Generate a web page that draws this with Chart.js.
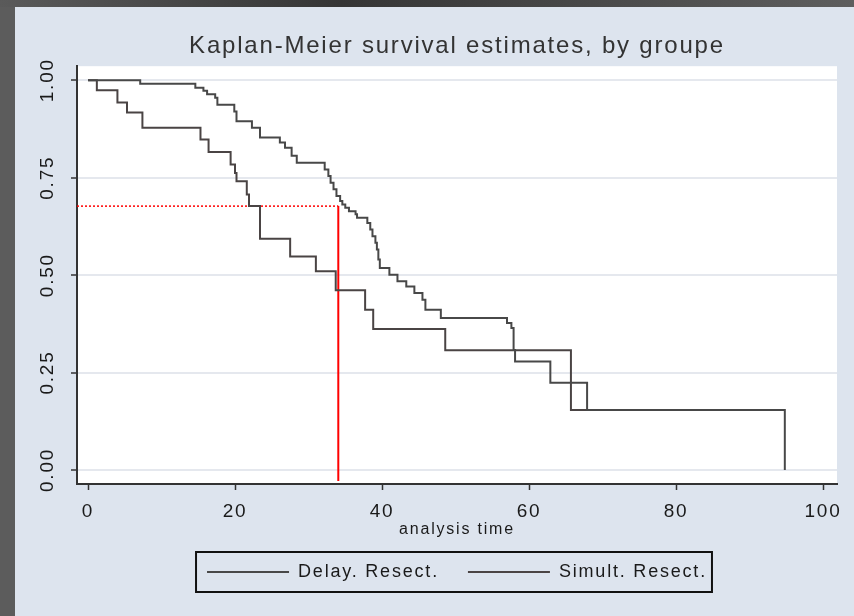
<!DOCTYPE html>
<html>
<head>
<meta charset="utf-8">
<script src="https://cdn.jsdelivr.net/npm/chart.js@4.4.1/dist/chart.umd.min.js"></script>
<style>
  html, body { margin: 0; padding: 0; background: #4a4a4a; overflow: hidden; }
  canvas { display: block; }
</style>
</head>
<body>
<canvas id="km" width="854" height="616"></canvas>
<script>
// step values (time in months, survival)
const delayTime = [0, 7.1, 14.6, 15.7, 16.2, 17.3, 17.6, 19.9, 20.2, 22.3, 23.4, 26.1, 26.8, 27.7, 28.4,
  32.2, 32.7, 33.0, 33.4, 33.8, 34.3, 34.6, 35.0, 35.5, 36.4, 36.6, 38.0, 38.4, 38.7, 39.1, 39.3, 39.5,
  39.7, 41.0, 42.1, 43.3, 44.4, 45.5, 45.9, 48.0, 57.0, 57.6, 57.9, 58.1, 62.9, 67.9, 94.8];
const delaySurv = [1, 0.991, 0.981, 0.973, 0.964, 0.955, 0.937, 0.92, 0.895, 0.878, 0.853, 0.84, 0.827, 0.806, 0.788,
  0.771, 0.754, 0.737, 0.72, 0.703, 0.69, 0.681, 0.673, 0.664, 0.656, 0.647, 0.634, 0.617, 0.6, 0.583, 0.566, 0.54,
  0.518, 0.501, 0.484, 0.471, 0.454, 0.437, 0.411, 0.39, 0.377, 0.364, 0.308, 0.278, 0.224, 0.154, 0];

const simultTime = [0, 1.2, 4.0, 5.3, 7.4, 15.3, 16.4, 19.4, 20.0, 20.2, 21.6, 21.9, 23.4, 27.5, 31.0,
  33.7, 37.7, 38.8, 48.6, 65.7, 94.8];
const simultSurv = [1, 0.974, 0.943, 0.917, 0.878, 0.848, 0.816, 0.784, 0.762, 0.741, 0.707, 0.677, 0.593, 0.548, 0.51,
  0.461, 0.411, 0.362, 0.307, 0.154, 0.154];

const groupNames = ['Delay. Resect.', 'Simult. Resect.'];
const xTicks = [0, 20, 40, 60, 80, 100];
const yTicks = [0, 0.25, 0.5, 0.75, 1];
const yTickLabels = ['0.00', '0.25', '0.50', '0.75', '1.00'];

// red guide lines
const refTime = 34.05;
const refSurv = 0.677;
const refBottom = -0.028;

const xMin = -1.5, xMax = 101.9;
const yMin = -0.036, yMax = 1.036;

const curveColor = '#484848';
const font = 'Liberation Sans, Arial, sans-serif';

function pts(xs, ys) {
  return xs.map((x, i) => ({ x: x, y: ys[i] }));
}

const stataLook = {
  id: 'stataLook',
  beforeUpdate(chart) {
    chart.ctx.letterSpacing = '1.8px';
  },
  beforeDraw(chart) {
    const { ctx, width, height, chartArea: a } = chart;
    ctx.save();
    const g = ctx.createLinearGradient(0, 0, width, 0);
    g.addColorStop(0, '#5a5a5a');
    g.addColorStop(0.4, '#353535');
    g.addColorStop(1, '#5e5e5e');
    ctx.fillStyle = g;
    ctx.fillRect(0, 0, width, height);
    ctx.fillStyle = '#5c5c5c';
    ctx.fillRect(0, 7, 15, height);
    ctx.fillStyle = '#dde4ee';
    ctx.fillRect(15, 7, width - 15, height - 7);
    ctx.fillStyle = '#ffffff';
    ctx.fillRect(a.left, a.top, a.right - a.left, a.bottom - a.top);
    ctx.restore();
    ctx.letterSpacing = '1.8px';
  },
  afterDraw(chart) {
    // frame round the legend, like Stata draws it
    const hb = chart.legend.legendHitBoxes;
    if (!hb || !hb.length) return;
    const first = hb[0], last = hb[hb.length - 1];
    const ctx = chart.ctx;
    ctx.save();
    ctx.strokeStyle = '#111';
    ctx.lineWidth = 2;
    const left = first.left - 11;
    const right = last.left + last.width + 5;
    const top = first.top - 11;
    const bottom = first.top + first.height + 11;
    ctx.strokeRect(left, top, right - left, bottom - top);
    ctx.restore();
  }
};

new Chart(document.getElementById('km'), {
  type: 'line',
  data: {
    datasets: [
      {
        label: groupNames[0],
        data: pts(delayTime, delaySurv),
        stepped: true,
        borderColor: curveColor,
        backgroundColor: curveColor,
        borderWidth: 2,
        pointRadius: 0
      },
      {
        label: groupNames[1],
        data: pts(simultTime, simultSurv),
        stepped: true,
        borderColor: '#4a4444',
        backgroundColor: '#4a4444',
        borderWidth: 2,
        pointRadius: 0
      },
      {
        label: 'ref-h',
        data: [{ x: xMin, y: refSurv }, { x: refTime, y: refSurv }],
        borderColor: '#ff0000',
        borderWidth: 1.5,
        borderDash: [2, 2],
        pointRadius: 0
      },
      {
        label: 'ref-v',
        data: [{ x: refTime, y: refSurv }, { x: refTime, y: refBottom }],
        borderColor: '#ff0000',
        borderWidth: 2,
        pointRadius: 0
      }
    ]
  },
  options: {
    responsive: false,
    animation: false,
    layout: { padding: { left: 30, right: 17, top: 7, bottom: 25 } },
    plugins: {
      tooltip: { enabled: false },
      title: {
        display: true,
        fullSize: false,
        text: 'Kaplan-Meier survival estimates, by groupe',
        color: '#333',
        font: { family: font, size: 24, weight: 'normal', lineHeight: 1.2 },
        padding: { top: 25, bottom: 5.4 }
      },
      legend: {
        position: 'bottom',
        fullSize: false,
        labels: {
          filter: (item) => item.datasetIndex < 2,
          color: '#1a1a1a',
          font: { family: font, size: 18 },
          boxWidth: 82,
          boxHeight: 0,
          padding: 29
        }
      }
    },
    scales: {
      x: {
        type: 'linear',
        min: xMin,
        max: xMax,
        afterBuildTicks: (s) => { s.ticks = xTicks.map(v => ({ value: v })); },
        afterFit: (s) => { s.height = 50; },
        ticks: {
          color: '#1a1a1a',
          font: { family: font, size: 19 },
          padding: 10,
          maxRotation: 0,
          callback: (v) => String(v)
        },
        grid: { drawOnChartArea: false, drawTicks: true, tickLength: 6, tickColor: '#333', tickWidth: 1.5 },
        border: { display: true, color: '#333', width: 2 },
        title: {
          display: true,
          text: 'analysis time',
          color: '#1a1a1a',
          font: { family: font, size: 16 },
          padding: { top: 0, bottom: -5 }
        }
      },
      y: {
        min: yMin,
        max: yMax,
        afterBuildTicks: (s) => { s.ticks = yTicks.map(v => ({ value: v })); },
        afterFit: (s) => { s.width = 47; },
        ticks: {
          color: '#1a1a1a',
          font: { family: font, size: 19 },
          padding: 1.5,
          minRotation: 90,
          maxRotation: 90,
          crossAlign: 'center',
          callback: (v) => yTickLabels[yTicks.indexOf(v)]
        },
        grid: { color: '#e5e8ee', lineWidth: 2, drawTicks: true, tickLength: 6, tickColor: '#333', tickWidth: 1.5 },
        border: { display: true, color: '#333', width: 2 }
      }
    }
  },
  plugins: [stataLook]
});
</script>
</body>
</html>
